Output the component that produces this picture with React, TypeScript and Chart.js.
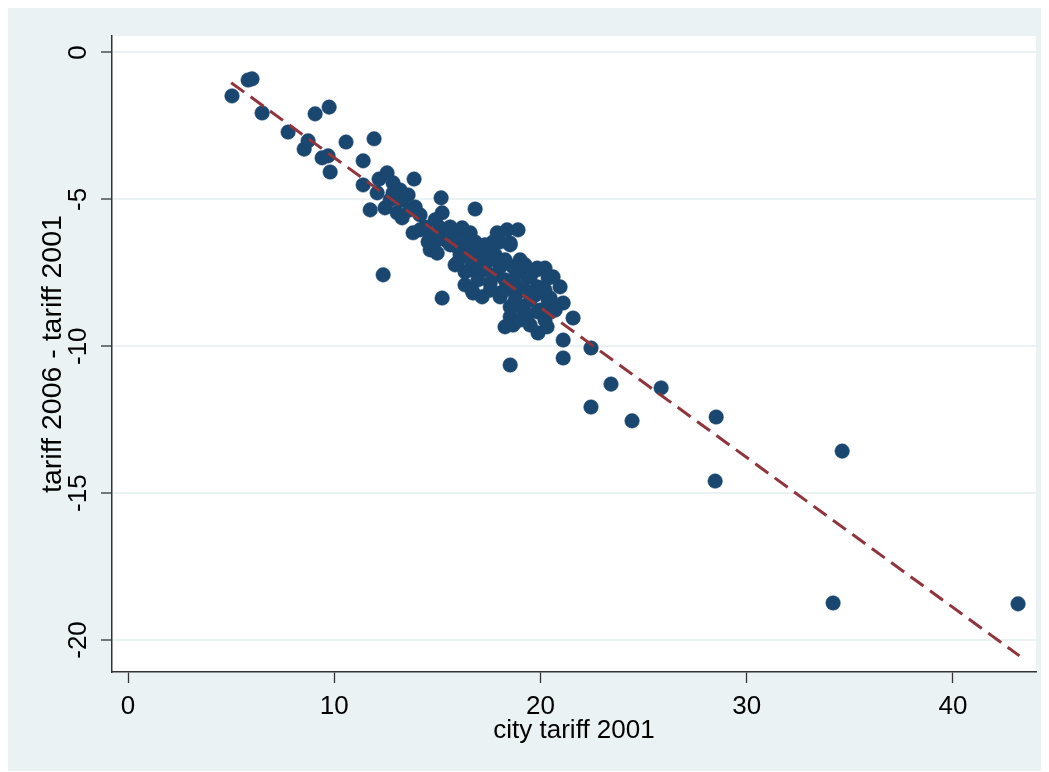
import React, { useEffect, useRef } from "react";
import { Chart, registerables } from "chart.js";

Chart.register(...registerables);

// city tariff 2001 (x) and tariff 2006 - tariff 2001 (y)
const cityTariff2001 = [
  5.04, 5.82, 6.01, 6.5, 7.76, 8.54, 8.73, 9.07, 9.75, 9.41, 9.7, 9.8, 10.57, 11.4, 11.93, 11.4, 11.74,
  12.17, 12.56, 13.87, 12.85, 13.19, 12.08, 13.58, 12.46, 13.05, 13.29, 13.92, 15.18, 15.23, 16.83,
  13.82, 14.4, 14.65, 14.99, 15.13, 15.62, 16.2, 16.59, 12.37, 15.37, 15.96, 16.44, 15.96, 16.59,
  16.83, 17.9, 18.38, 18.91, 18.53, 18.04, 16.44, 17.22, 17.56, 16.93, 18.04, 18.67, 19.16, 19.84,
  16.34, 16.68, 17.17, 15.23, 17.56, 18.04, 18.67, 19.5, 19.84, 18.87, 18.53, 19.16, 19.98, 20.37,
  20.37, 18.53, 17.7, 16.73, 19.84, 20.61, 20.95, 19.98, 20.47, 21.1, 21.58, 20.47, 19.84, 19.35,
  18.53, 18.28, 18.67, 19.88, 20.32, 21.1, 21.1, 22.45, 18.53, 19.01, 18.04, 18.87, 19.35, 23.42,
  22.45, 24.44, 25.85, 28.52, 28.47, 34.63, 34.19, 43.16,
  14.16, 14.65, 14.89, 15.62, 15.86, 16.1, 17.07, 17.31, 17.31, 17.8, 18.28, 17.8, 18.28, 19.01,
  19.25, 19.5, 18.77, 20.22, 20.71, 16.97, 16.34, 19.01, 19.5, 20.22, 13.19, 13.67, 12.71, 14.16,
  14.55, 14.99, 16.1, 16.59, 16.83, 17.56, 15.86, 17.56, 18.28, 19.74, 19.25, 20.22, 12.85, 13.29,
];
const tariffChange = [
  -1.48, -0.94, -0.9, -2.06, -2.71, -3.29, -3.01, -2.09, -1.86, -3.59, -3.52, -4.07, -3.05, -3.69, -2.94, -4.51, -5.36,
  -4.31, -4.1, -4.31, -4.44, -4.68, -4.78, -4.85, -5.29, -5.46, -5.63, -5.26, -4.95, -5.46, -5.33,
  -6.14, -5.94, -6.72, -6.83, -5.97, -5.94, -5.97, -6.14, -7.57, -6.38, -6.62, -6.72, -7.17, -7.4,
  -6.45, -6.14, -6.04, -6.04, -6.49, -6.45, -6.96, -6.83, -7.06, -7.3, -7.3, -7.3, -7.47, -7.4,
  -7.47, -8.09, -8.32, -8.36, -7.85, -8.19, -7.74, -7.64, -7.98, -8.19, -8.66, -8.66, -8.77, -8.43,
  -7.68, -6.55, -6.45, -8.19, -7.34, -7.64, -7.98, -8.02, -8.36, -8.53, -9.04, -8.83, -8.83, -8.94,
  -9.0, -9.34, -9.28, -9.55, -9.34, -9.79, -10.4, -10.06, -10.64, -8.66, -8.32, -7.98, -7.64, -11.29,
  -12.07, -12.54, -11.42, -12.41, -14.59, -13.57, -18.74, -18.77,
  -5.53, -6.21, -5.7, -6.55, -6.21, -6.89, -7.06, -6.55, -7.4, -7.57, -7.74, -6.89, -7.06, -7.06,
  -8.09, -8.43, -8.43, -8.09, -8.77, -7.74, -7.91, -9.11, -9.28, -9.11, -5.02, -5.36, -5.02, -6.04,
  -6.45, -6.38, -6.38, -6.55, -6.72, -6.72, -7.23, -8.09, -8.09, -8.26, -7.23, -7.34, -4.78, -5.02,
];

// fitted line endpoints
const fitX = [5.0, 43.23];
const fitY = [-1.03, -20.54];

const xTicks = [0, 10, 20, 30, 40];
const yTicks = [-20, -15, -10, -5, 0];
const xRange = [-0.78, 44.03];
const yRange = [-21.09, 0.56];

const xTitle = "city tariff 2001";
const yTitle = "tariff 2006 - tariff 2001";

const FONT = "'Liberation Sans', Arial, Helvetica, sans-serif";
const BG = "#EAF2F3";

const plotBg = {
  id: "plotBg",
  beforeDraw(chart: any) {
    const { ctx, chartArea: a } = chart;
    ctx.save();
    ctx.fillStyle = "#ffffff";
    ctx.fillRect(a.left, a.top, a.right - a.left, a.bottom - a.top);
    ctx.restore();
  },
};

export default function App() {
  const ref = useRef<HTMLCanvasElement | null>(null);

  useEffect(() => {
    if (!ref.current) return;
    const points = cityTariff2001.map((x, i) => ({ x, y: tariffChange[i] }));
    const fit = fitX.map((x, i) => ({ x, y: fitY[i] }));
    const chart = new Chart(ref.current, {
      type: "scatter",
      data: {
        datasets: [
          {
            type: "line",
            label: "Fitted values",
            data: fit,
            borderColor: "#90353B",
            borderWidth: 3,
            borderDash: [16, 8],
            pointRadius: 0,
            fill: false,
            order: 0,
          } as any,
          {
            label: "tariff change",
            data: points,
            backgroundColor: "#1A476F",
            borderColor: "#1A476F",
            borderWidth: 0.5,
            pointRadius: 7.3,
            order: 1,
          },
        ],
      },
      options: {
        responsive: false,
        animation: false,
        layout: { padding: { top: 28, right: 13, left: 0, bottom: 0 } },
        plugins: {
          legend: { display: false },
          tooltip: { enabled: false },
        },
        scales: {
          x: {
            type: "linear",
            min: xRange[0],
            max: xRange[1],
            afterBuildTicks: (s: any) => {
              s.ticks = xTicks.map((v) => ({ value: v }));
            },
            afterFit: (s: any) => {
              s.height = 99;
            },
            grid: {
              drawOnChartArea: false,
              drawTicks: true,
              tickLength: 11,
              tickColor: "#333",
              tickWidth: 1.3,
            },
            border: { display: true, color: "#333", width: 1.5 },
            ticks: {
              color: "#000",
              font: { family: FONT, size: 26 },
              padding: 8,
              maxRotation: 0,
              autoSkip: false,
            },
            title: {
              display: true,
              text: xTitle,
              color: "#000",
              font: { family: FONT, size: 26 },
              padding: { top: 0, bottom: 25 },
            },
          },
          y: {
            type: "linear",
            min: yRange[0],
            max: yRange[1],
            afterBuildTicks: (s: any) => {
              s.ticks = yTicks.map((v) => ({ value: v }));
            },
            afterFit: (s: any) => {
              s.width = 104;
            },
            grid: {
              drawOnChartArea: true,
              color: BG,
              lineWidth: 2,
              drawTicks: true,
              tickLength: 11,
              tickColor: "#333",
              tickWidth: 1.3,
            },
            border: { display: true, color: "#333", width: 1.5 },
            ticks: {
              color: "#000",
              font: { family: FONT, size: 26 },
              padding: 3,
              minRotation: 90,
              maxRotation: 90,
              crossAlign: "center",
              autoSkip: false,
            },
            title: {
              display: true,
              text: yTitle,
              color: "#000",
              font: { family: FONT, size: 28.5 },
              padding: { top: 28, bottom: 0 },
            },
          },
        },
      },
      plugins: [plotBg],
    });
    return () => chart.destroy();
  }, []);

  return (
    <div style={{ width: 1041, height: 763, background: BG }}>
      <canvas ref={ref} width={1041} height={763} style={{ display: "block" }} />
    </div>
  );
}
